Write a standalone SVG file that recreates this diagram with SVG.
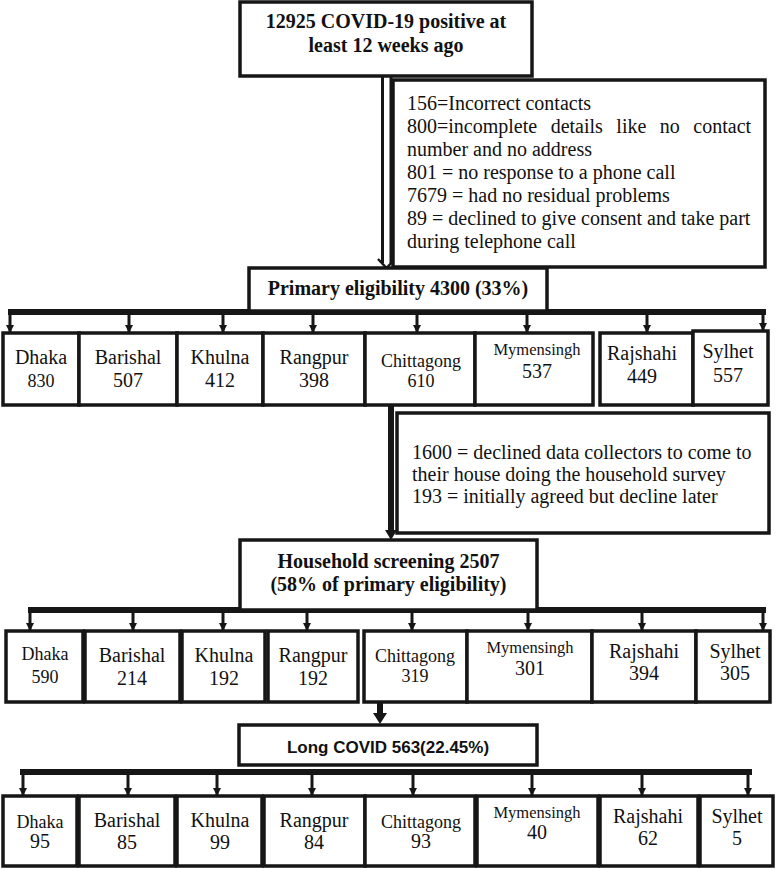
<svg xmlns="http://www.w3.org/2000/svg" width="778" height="869" viewBox="0 0 778 869">
<style>
.box{fill:#fff;stroke:#161616;stroke-width:3.5}
.t{font-family:"Liberation Serif","Times New Roman",serif;font-size:20px;fill:#111;text-anchor:middle}
.l{text-anchor:start}
.b{font-weight:bold}
.s18{font-size:18px}
.s16{font-size:16.5px}
.bar{stroke:#161616;stroke-width:6;fill:none}
.drop{stroke:#161616;stroke-width:3;fill:none;marker-end:url(#ah)}
.sans{font-family:"Liberation Sans",Arial,sans-serif;font-size:17px;font-weight:bold}
</style>
<defs>
<marker id="ah" markerUnits="userSpaceOnUse" markerWidth="9" markerHeight="8" refX="8" refY="4" orient="auto">
<path d="M0,0 L8,4 L0,8 z" fill="#161616"/>
</marker>
</defs>
<rect width="778" height="869" fill="#fff"/>

<g id="connectors">
<!-- double arrow from top box -->
<line x1="382.5" y1="76" x2="382.5" y2="263" stroke="#161616" stroke-width="3"/>
<line x1="391" y1="76" x2="391" y2="263" stroke="#161616" stroke-width="3"/>
<path d="M378,259 L386.5,268 L395,259" fill="none" stroke="#161616" stroke-width="2.5"/>
<!-- bar 1 -->
<line class="bar" x1="8" y1="312" x2="766" y2="312"/>
<line class="drop" x1="10" y1="312" x2="10" y2="333"/>
<line class="drop" x1="129" y1="312" x2="129" y2="333"/>
<line class="drop" x1="223" y1="312" x2="223" y2="333"/>
<line class="drop" x1="313" y1="312" x2="313" y2="333"/>
<line class="drop" x1="417" y1="312" x2="417" y2="333"/>
<line class="drop" x1="527" y1="312" x2="527" y2="333"/>
<line class="drop" x1="647" y1="312" x2="647" y2="333"/>
<line class="drop" x1="763" y1="312" x2="763" y2="331"/>
<!-- arrow to household -->
<line x1="391" y1="405" x2="391" y2="531" stroke="#161616" stroke-width="6"/>
<polygon points="385,530 397,530 391,540" fill="#161616"/>
<!-- bar 2 -->
<line class="bar" x1="28" y1="610" x2="766" y2="610"/>
<line class="drop" x1="30" y1="610" x2="30" y2="631"/>
<line class="drop" x1="133" y1="610" x2="133" y2="631"/>
<line class="drop" x1="223" y1="610" x2="223" y2="631"/>
<line class="drop" x1="307" y1="610" x2="307" y2="631"/>
<line class="drop" x1="412" y1="610" x2="412" y2="631"/>
<line class="drop" x1="528" y1="610" x2="528" y2="631"/>
<line class="drop" x1="642" y1="610" x2="642" y2="631"/>
<line class="drop" x1="763" y1="610" x2="763" y2="631"/>
<!-- arrow to long covid -->
<line x1="380" y1="702" x2="380" y2="714" stroke="#161616" stroke-width="6"/>
<polygon points="373,713 387,713 380,724" fill="#161616"/>
<!-- bar 3 -->
<line class="bar" x1="20" y1="772" x2="752" y2="772"/>
<line class="drop" x1="23" y1="772" x2="23" y2="796"/>
<line class="drop" x1="128" y1="772" x2="128" y2="796"/>
<line class="drop" x1="217" y1="772" x2="217" y2="796"/>
<line class="drop" x1="312" y1="772" x2="312" y2="796"/>
<line class="drop" x1="413" y1="772" x2="413" y2="796"/>
<line class="drop" x1="532" y1="772" x2="532" y2="796"/>
<line class="drop" x1="642" y1="772" x2="642" y2="796"/>
<line class="drop" x1="748" y1="772" x2="748" y2="796"/>
</g>

<g id="start">
<rect class="box" x="240" y="2" width="292" height="74"/>
<text class="t b" x="386" y="28">12925 COVID-19 positive at</text>
<text class="t b" x="386" y="52">least 12 weeks ago</text>
</g>

<g id="excluded1">
<rect class="box" x="393" y="80" width="372" height="187"/>
<text class="t l" x="407" y="110">156=Incorrect contacts</text>
<text class="t l" x="407" y="133" word-spacing="8.5">800=incomplete details like no contact</text>
<text class="t l" x="407" y="156">number and no address</text>
<text class="t l" x="407" y="179">801 = no response to a phone call</text>
<text class="t l" x="407" y="202">7679 = had no residual problems</text>
<text class="t l" x="407" y="225">89 = declined to give consent and take part</text>
<text class="t l" x="407" y="248">during telephone call</text>
</g>

<g id="primary">
<rect class="box" x="249" y="268" width="298" height="43"/>
<text class="t b" x="398" y="295">Primary eligibility 4300 (33%)</text>
</g>

<g id="p-dhaka"><rect class="box" x="3" y="333" width="76" height="72"/><text class="t" x="41" y="364" font-size="19">Dhaka</text><text class="t s18" x="41" y="387">830</text></g>
<g id="p-barishal"><rect class="box" x="79" y="333" width="98" height="72"/><text class="t" x="128" y="364">Barishal</text><text class="t" x="128" y="387">507</text></g>
<g id="p-khulna"><rect class="box" x="177" y="333" width="86" height="72"/><text class="t" x="220" y="364">Khulna</text><text class="t" x="220" y="387">412</text></g>
<g id="p-rangpur"><rect class="box" x="263" y="333" width="102" height="72"/><text class="t" x="314" y="364">Rangpur</text><text class="t" x="314" y="387">398</text></g>
<g id="p-chittagong"><rect class="box" x="365" y="333" width="110" height="72"/><text class="t s18" x="421" y="367">Chittagong</text><text class="t s18" x="421" y="387">610</text></g>
<g id="p-mymensingh"><rect class="box" x="475" y="333" width="118" height="72"/><text class="t s16" x="537" y="355">Mymensingh</text><text class="t" x="537" y="378">537</text></g>
<g id="p-rajshahi"><rect class="box" x="600" y="333" width="93" height="72"/><text class="t" x="642" y="360">Rajshahi</text><text class="t" x="642" y="383">449</text></g>
<g id="p-sylhet"><rect class="box" x="693" y="331" width="75" height="74"/><text class="t" x="728" y="358">Sylhet</text><text class="t" x="728" y="382">557</text></g>

<g id="excluded2">
<rect class="box" x="397" y="413" width="372" height="120"/>
<text class="t l" x="412" y="459">1600 = declined data collectors to come to</text>
<text class="t l" x="412" y="481">their house doing the household survey</text>
<text class="t l" x="412" y="503">193 = initially agreed but decline later</text>
</g>

<g id="household">
<rect class="box" x="240" y="540" width="297" height="70"/>
<text class="t b" x="388.5" y="568">Household screening 2507</text>
<text class="t b" x="388.5" y="591">(58% of primary eligibility)</text>
</g>

<g id="h-dhaka"><rect class="box" x="6" y="631" width="77" height="71"/><text class="t s18" x="45" y="660">Dhaka</text><text class="t s18" x="45" y="683">590</text></g>
<g id="h-barishal"><rect class="box" x="85" y="631" width="95" height="71"/><text class="t" x="132" y="662">Barishal</text><text class="t" x="132" y="685">214</text></g>
<g id="h-khulna"><rect class="box" x="182" y="631" width="83" height="71"/><text class="t" x="224" y="662">Khulna</text><text class="t" x="224" y="685">192</text></g>
<g id="h-rangpur"><rect class="box" x="268" y="631" width="90" height="71"/><text class="t" x="313" y="662">Rangpur</text><text class="t" x="313" y="685">192</text></g>
<g id="h-chittagong"><rect class="box" x="364" y="631" width="103" height="71"/><text class="t s18" x="415" y="662">Chittagong</text><text class="t s18" x="415" y="682">319</text></g>
<g id="h-mymensingh"><rect class="box" x="467" y="631" width="125" height="71"/><text class="t s16" x="530" y="653">Mymensingh</text><text class="t" x="530" y="675">301</text></g>
<g id="h-rajshahi"><rect class="box" x="592" y="631" width="104" height="71"/><text class="t" x="644" y="658">Rajshahi</text><text class="t" x="644" y="680">394</text></g>
<g id="h-sylhet"><rect class="box" x="696" y="631" width="74" height="71"/><text class="t" x="735" y="658">Sylhet</text><text class="t" x="735" y="680">305</text></g>

<g id="longcovid">
<rect class="box" x="239" y="725" width="298" height="40"/>
<text class="t sans" x="388" y="753">Long COVID 563(22.45%)</text>
</g>

<g id="l-dhaka"><rect class="box" x="3" y="796" width="74" height="70"/><text class="t s18" x="40" y="828">Dhaka</text><text class="t" x="40" y="848">95</text></g>
<g id="l-barishal"><rect class="box" x="79" y="796" width="96" height="70"/><text class="t" x="127" y="827">Barishal</text><text class="t" x="127" y="849">85</text></g>
<g id="l-khulna"><rect class="box" x="177" y="796" width="85" height="70"/><text class="t" x="220" y="827">Khulna</text><text class="t" x="220" y="849">99</text></g>
<g id="l-rangpur"><rect class="box" x="264" y="796" width="101" height="70"/><text class="t" x="314" y="827">Rangpur</text><text class="t" x="314" y="849">84</text></g>
<g id="l-chittagong"><rect class="box" x="365" y="796" width="110" height="70"/><text class="t s18" x="421" y="828">Chittagong</text><text class="t" x="421" y="848">93</text></g>
<g id="l-mymensingh"><rect class="box" x="477" y="796" width="121" height="70"/><text class="t s16" x="537" y="818">Mymensingh</text><text class="t" x="537" y="839">40</text></g>
<g id="l-rajshahi"><rect class="box" x="600" y="796" width="98" height="70"/><text class="t" x="648" y="823">Rajshahi</text><text class="t" x="648" y="845">62</text></g>
<g id="l-sylhet"><rect class="box" x="700" y="796" width="73" height="70"/><text class="t" x="737" y="823">Sylhet</text><text class="t" x="737" y="845">5</text></g>
</svg>
